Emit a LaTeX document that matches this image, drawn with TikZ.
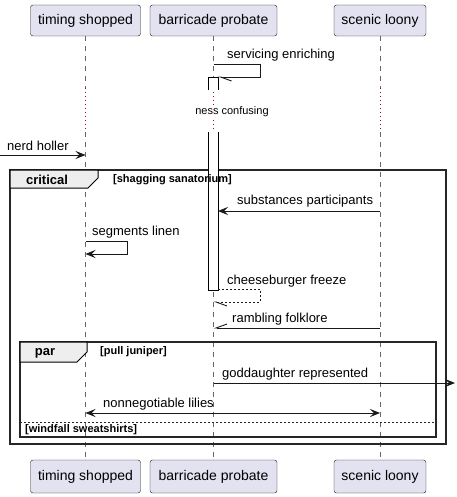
\documentclass[tikz,border=0pt]{standalone}
\usepackage{fontspec}
\setmainfont{Liberation Sans}
\usetikzlibrary{arrows.meta}
\definecolor{actfill}{HTML}{E2E2F0}
\definecolor{delayred}{HTML}{A80036}
\definecolor{tabfill}{HTML}{EEEEEE}

\begin{document}
\begin{tikzpicture}[x=1pt,y=-1pt,
  actor/.style={draw=black!90, fill=actfill, rounded corners=2.5pt, inner sep=0pt, minimum height=31pt, font=\fontsize{14}{16}\selectfont},
  lifeline/.style={black!60, dash pattern=on 5pt off 5pt, line width=0.6pt},
  delayline/.style={delayred, dash pattern=on 1pt off 3pt, line width=0.8pt},
  msg/.style={anchor=west, inner sep=0pt, font=\fontsize{13}{15}\selectfont},
  msgline/.style={black!90, line width=0.9pt},
  full/.style={-{Stealth[length=10pt,width=8pt,inset=4pt]}},
  both/.style={{Stealth[length=10pt,width=8pt,inset=4pt]}-{Stealth[length=10pt,width=8pt,inset=4pt]}},
  barbdown/.style={-{Straight Barb[left,length=11pt,width=8pt]}},
  barbup/.style={-{Straight Barb[right,length=11pt,width=8pt]}},
  grouphead/.style={inner sep=0pt, font=\bfseries\fontsize{13}{15}\selectfont},
  guard/.style={anchor=west, inner sep=0pt, font=\bfseries\fontsize{11}{13}\selectfont},
  frameline/.style={black!85, line width=1.5pt}]
\useasboundingbox (0,0) rectangle (456,497);
% participants
\node[actor, minimum width=110pt] (ts) at (85.5,20.5) {timing shopped};
\node[actor, minimum width=127pt] (bp) at (213.5,20.5) {barricade probate};
\node[actor, minimum width=92pt] (sl) at (380,20.5) {scenic loony};
\node[actor, minimum width=110pt, minimum height=33pt] (tsb) at (85.5,476.5) {timing shopped};
\node[actor, minimum width=127pt, minimum height=33pt] (bpb) at (213.5,476.5) {barricade probate};
\node[actor, minimum width=92pt, minimum height=33pt] (slb) at (380,476.5) {scenic loony};
\coordinate (d1) at (0,88);
\coordinate (d2) at (0,132);
% lifelines
\draw[lifeline] (ts.south) -- (ts |- d1);
\draw[delayline] (ts |- d1) -- (ts |- d2);
\draw[lifeline] (ts |- d2) -- (tsb.north);
\draw[lifeline] (bp.south) -- (bp |- d1);
\draw[delayline] (bp |- d1) -- (bp |- d2);
\draw[lifeline] (bp |- d2) -- (bpb.north);
\draw[lifeline] (sl.south) -- (sl |- d1);
\draw[delayline] (sl |- d1) -- (sl |- d2);
\draw[lifeline] (sl |- d2) -- (slb.north);
\node[inner sep=1pt, fill=white, font=\fontsize{11}{13}\selectfont] (delay) at (232,112) {ness confusing};
% critical frame
\draw[frameline] (10,170) rectangle (446,444);
\draw[fill=tabfill, line width=1pt] (10,170) -- (98,170) -- (98,178) -- (88,188) -- (10,188) -- cycle;
\node[grouphead] (crit) at (47,180) {critical};
% par frame
\draw[frameline] (20,342) rectangle (436,437);
\draw[fill=tabfill, line width=1pt] (20,342) -- (87,342) -- (87,352) -- (77,362) -- (20,362) -- cycle;
\node[grouphead] (par) at (45,353) {par};
\draw[black!85, dash pattern=on 2pt off 2pt, line width=0.8pt] (20,422) -- (436,422);
% activation
\draw[fill=white, line width=0.9pt] (208,90) -- (208,77) -- (218,77) -- (218,90);
\draw[fill=white, line width=0.9pt] (208,132) -- (208,290) -- (218,290) -- (218,132);
\coordinate (act-in) at (218,77);
\coordinate (act-sub) at (218,211);
\coordinate (act-out) at (218,289);
% guards
\node[guard] (critg) at (113,180) {[shagging sanatorium]};
\node[guard] (parg) at (100,352) {[pull juniper]};
\node[guard] (elseg) at (25,430) {[windfall sweatshirts]};
% messages
\node[msg] (m1) at (227,55) {servicing enriching};
\draw[msgline, barbdown] (bp |- 0,64) -- (260,64) -- (260,77) -- (act-in);
\coordinate (start) at (0,155);
\node[msg] (m2) at (7,146) {nerd holler};
\draw[msgline, full] (start) -- (ts |- start);
\node[msg] (m3) at (237,201) {substances participants};
\draw[msgline, full] (sl |- act-sub) -- (act-sub);
\node[msg] (m4) at (92,232) {segments linen};
\draw[msgline, full] (ts |- 0,241) -- (127,241) -- (127,254) -- (ts |- 0,254);
\node[msg] (m5) at (227,281) {cheeseburger freeze};
\draw[msgline, barbdown, dash pattern=on 2pt off 2pt] (act-out) -- (260,289) -- (260,302) -- (bp |- 0,302);
\node[msg] (m6) at (232,319) {rambling folklore};
\draw[msgline, barbup] (sl |- 0,328) -- (bp |- 0,328);
\coordinate (out) at (455,383);
\node[msg] (m7) at (222,374) {goddaughter represented};
\draw[msgline, full] (bp |- out) -- (out);
\node[msg] (m8) at (103,404) {nonnegotiable lilies};
\draw[msgline, both] (ts |- 0,413) -- (sl |- 0,413);
\end{tikzpicture}
\end{document}
